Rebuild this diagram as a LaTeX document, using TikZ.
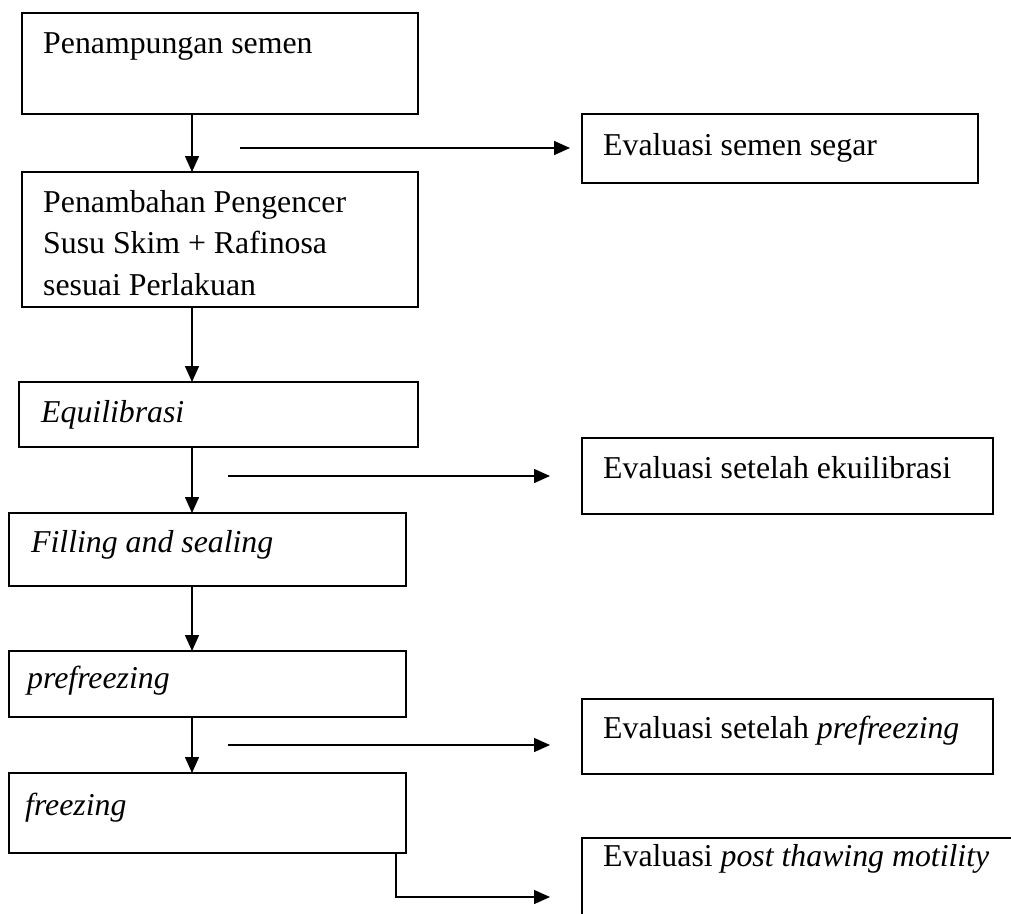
\documentclass[tikz,border=0pt]{standalone}
\usepackage{fontspec}
\setmainfont{Liberation Serif}
\usetikzlibrary{arrows.meta}
\begin{document}
\begin{tikzpicture}[x=1pt,y=-1pt,
  box/.style={draw,line width=1.5pt,rectangle,anchor=north west,inner sep=0pt,outer sep=0pt},
  lbl/.style={anchor=base west,inner sep=0pt,font=\fontsize{31.8}{41.5}\selectfont},
  arr/.style={line width=1.5pt,-{Triangle[length=16pt,width=14pt]}}]
\clip (0,0) rectangle (1011,913);
\fill[white] (0,0) rectangle (1011,913);
% main column boxes
\node[box,minimum width=396pt,minimum height=101pt] (b1) at (22,13) {};
\node[box,minimum width=396pt,minimum height=135pt] (b2) at (22,172) {};
\node[box,minimum width=399pt,minimum height=65pt] (b3) at (19,382) {};
\node[box,minimum width=397pt,minimum height=73pt] (b4) at (9,513) {};
\node[box,minimum width=397pt,minimum height=66pt] (b5) at (9,651) {};
\node[box,minimum width=397pt,minimum height=80pt] (b6) at (9,773) {};
% evaluation boxes
\node[box,minimum width=396pt,minimum height=69pt] (e1) at (582,114) {};
\node[box,minimum width=411pt,minimum height=76pt] (e2) at (582,438) {};
\node[box,minimum width=411pt,minimum height=75pt] (e3) at (582,699) {};
\node[box,minimum width=450pt,minimum height=110pt] (e4) at (582,838) {};
% texts
\node[lbl] (t1) at (43,53) {Penampungan semen};
\node[lbl] (t2a) at (43,212) {Penambahan Pengencer};
\node[lbl] (t2b) at (43,253) {Susu Skim + Rafinosa};
\node[lbl] (t2c) at (43,295) {sesuai Perlakuan};
\node[lbl] (t3) at (41,422) {\itshape Equilibrasi};
\node[lbl] (t4) at (31,552) {\itshape Filling and sealing};
\node[lbl] (t5) at (27,688) {\itshape prefreezing};
\node[lbl] (t6) at (25,815) {\itshape freezing};
\node[lbl] (te1) at (603,155) {Evaluasi semen segar};
\node[lbl] (te2) at (603,478) {Evaluasi setelah ekuilibrasi};
\node[lbl] (te3) at (603,738) {Evaluasi setelah \textit{prefreezing}};
\node[lbl] (te4) at (603,866) {Evaluasi \textit{post thawing motility}};
% vertical connectors
\coordinate (ax) at (192,0);
\draw[arr] (b1.south -| ax) -- (b2.north -| ax);
\draw[arr] (b2.south -| ax) -- (b3.north -| ax);
\draw[arr] (b3.south -| ax) -- (b4.north -| ax);
\draw[arr] (b4.south -| ax) -- (b5.north -| ax);
\draw[arr] (b5.south -| ax) -- (b6.north -| ax);
% horizontal connectors
\coordinate (s1) at (240,148);
\coordinate (s2) at (228,476);
\coordinate (s3) at (228,745);
\draw[arr,shorten >=12pt] (s1) -- (s1 -| e1.west);
\draw[arr,shorten >=32pt] (s2) -- (s2 -| e2.west);
\draw[arr,shorten >=32pt] (s3) -- (s3 -| e3.west);
\coordinate (c4) at (396,0);
\coordinate (s4) at (550,897);
\draw[arr] (b6.south -| c4) |- (s4);
\end{tikzpicture}
\end{document}
